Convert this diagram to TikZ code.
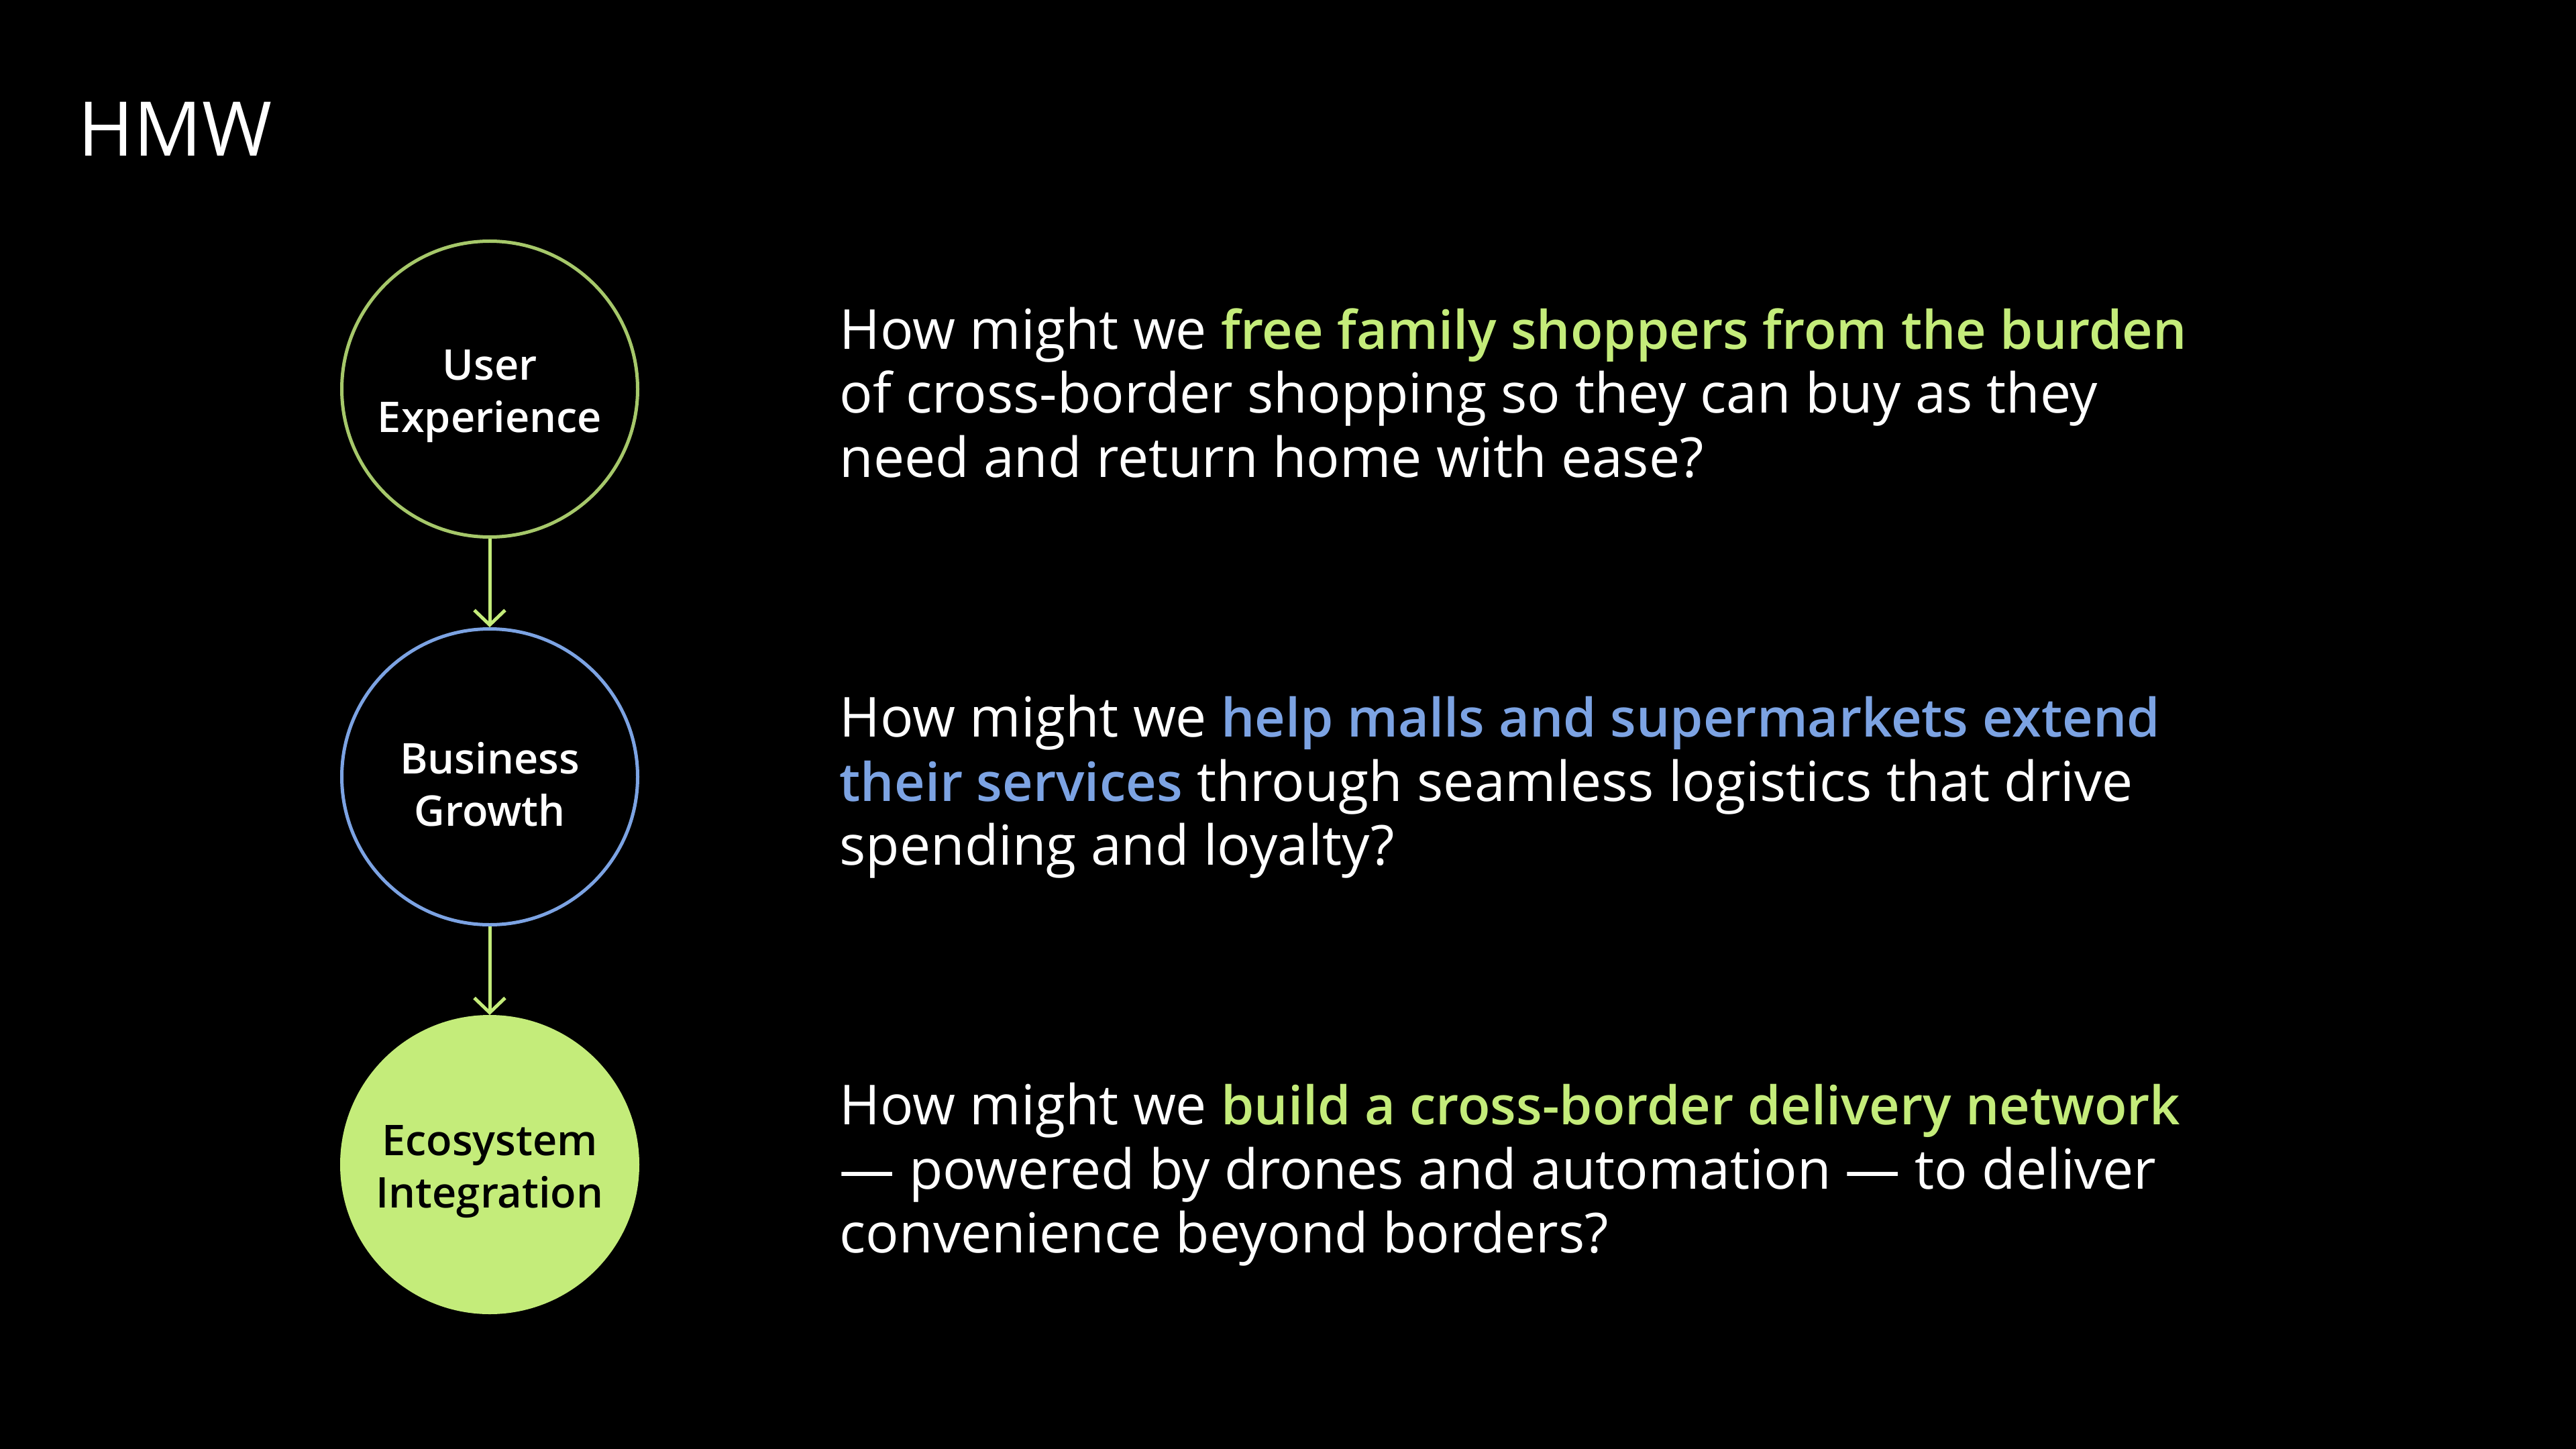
\documentclass[tikz,border=0pt]{standalone}
\usepackage{fontspec}
\setmainfont{Open Sans}[BoldFont={Open Sans Semibold}, BoldFeatures={Scale=0.965}]
\usepackage{xcolor}
\usetikzlibrary{arrows.meta, calc, positioning}
\definecolor{hmwlime}{HTML}{C4EC7A}
\definecolor{hmwolive}{HTML}{A6C86A}
\definecolor{hmwblue}{HTML}{7CA3E3}
\tikzset{
  % connector arrow style
  harr/.style={
    draw=hmwlime
    , line width = 0.05cm
    , -{Straight Barb[length=0.22cm, width=0.46cm]}
  },
}
\tikzset{
  % stage circle style
  stage/.style={
    circle
    , line width=0.05cm
    , minimum size=4.41cm
    , inner sep=0pt
  },
  % stage label style
  stagetxt/.style={
    align=center
    , yshift=-0.11cm
    , font=\fontsize{18.6}{22.2}\selectfont\bfseries
  },
  % question text style
  quest/.style={
    align=left
    , inner sep=0pt
    , text=white
    , font=\fontsize{23.4}{27.2}\selectfont
  },
}

\begin{document}
\begin{tikzpicture}
  \fill[black] (0,0) rectangle (38.4,-21.6);
  \node[anchor=base west, inner sep=0pt, text=white
       , font=\fontsize{32}{40}\selectfont] (title) at (1.16,-2.33) {HMW};
  % stages
  \node[stage, draw=hmwolive
       , label={[stagetxt, text=white]center:User\\Experience}] (ux) at (7.30,-5.80) {};
  \node[stage, draw=hmwblue, below=1.32cm of ux
       , label={[stagetxt, text=white]center:Business\\Growth}] (biz) {};
  \node[stage, draw=hmwlime, fill=hmwlime, below=1.32cm of biz
       , label={[stagetxt, text=black]center:Ecosystem\\Integration}] (eco) {};
  % questions
  \node[quest, right=2.98cm of ux, yshift=-0.05cm] (q1)
    {How might we \textcolor{hmwlime}{\bfseries free family shoppers from the burden}\\
     of cross-border shopping so they can buy as they\\
     need and return home with ease?};
  \node[quest, right=2.98cm of biz, yshift=-0.15cm] (q2)
    {How might we \textcolor{hmwblue}{\bfseries help malls and supermarkets extend}\\
     \textcolor{hmwblue}{\bfseries their services} through seamless logistics that drive\\
     spending and loyalty?};
  \node[quest, right=2.98cm of eco, yshift=-0.15cm] (q3)
    {How might we \textcolor{hmwlime}{\bfseries build a cross-border delivery network}\\
     — powered by drones and automation — to deliver\\
     convenience beyond borders?};
  \draw[harr] (ux) -- (biz);
  \draw[harr] (biz) -- (eco);
\end{tikzpicture}
\end{document}
